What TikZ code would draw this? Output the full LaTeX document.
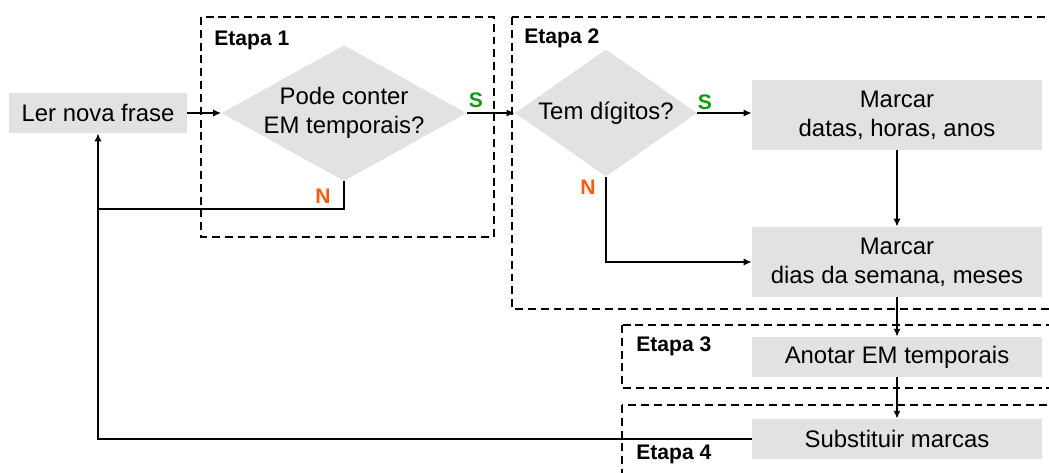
\documentclass[tikz,border=0pt]{standalone}
\usepackage{fontspec}
\setmainfont{Liberation Sans}
\usepackage{xcolor}
\usetikzlibrary{shapes.geometric,arrows.meta}

\definecolor{boxgray}{HTML}{E2E2E2}
\definecolor{simgreen}{HTML}{129A12}
\definecolor{naored}{HTML}{FF5A10}

\begin{document}
\begin{tikzpicture}[x=0.2mm,y=-0.2mm,
  font=\fontsize{13.6}{16.5}\selectfont,
  proc/.style={rectangle,fill=boxgray,minimum width=5.8cm,minimum height=0.8cm,align=center,inner sep=0pt},
  decision/.style={diamond,aspect=1.8,fill=boxgray,align=center,inner sep=-2pt},
  stage/.style={line width=1.1pt,dash pattern=on 4.5pt off 2.8pt},
  stagelbl/.style={anchor=west,inner sep=0pt,font=\fontsize{12}{14}\selectfont\bfseries},
  conn/.style={line width=0.85pt},
  arr/.style={conn,-{Latex[length=4.5pt,width=4pt]}},
  yes/.style={font=\fontsize{12}{14}\selectfont\bfseries,text=simgreen},
  no/.style={font=\fontsize{12}{14}\selectfont\bfseries,text=naored}]
\useasboundingbox (0,0) rectangle (1049,472);

% dashed frames of the four stages
\draw[stage] (201,17) rectangle (494,237);
\draw[stage] (512,17) rectangle (1070,309);
\draw[stage] (622,325) rectangle (1070,388);
\draw[stage] (622,405) rectangle (1070,490);
\node[stagelbl] (e1) at (214,40) {Etapa 1};
\node[stagelbl] (e2) at (524,38) {Etapa 2};
\node[stagelbl] (e3) at (636,346) {Etapa 3};
\node[stagelbl] (e4) at (636,454) {Etapa 4};

% boxes and questions
\node[proc,minimum width=3.56cm] (ler) at (98,113) {Ler nova frase};
\node[decision,minimum width=4.9cm,minimum height=2.72cm] (q1) at (344,113) {Pode conter\\EM temporais?};
\node[decision,minimum width=3.64cm,minimum height=2.54cm] (q2) at (606,113) {Tem dígitos?};
\node[proc,minimum height=1.4cm] (m1) at (897,115) {Marcar\\datas, horas, anos};
\node[proc,minimum height=1.4cm] (m2) at (897,262) {Marcar\\dias da semana, meses};
\node[proc] (an) at (897,357) {Anotar EM temporais};
\node[proc] (sb) at (897,439) {Substituir marcas};
\coordinate (back) at (98,209);

% connectors
\draw[arr] (ler) -- (q1);
\draw[arr] (q1) -- (q2);
\draw[arr] (q2.east) -- (q2.east -| m1.west);
\draw[arr] (q2.south) |- (m2.west);
\draw[arr] (m1) -- (m2);
\draw[arr] (m2) -- (an);
\draw[arr] (an) -- (sb);
\draw[arr] (sb.west) -| (ler.south);
\draw[conn] (q1.south) |- (back);

% yes / no marks
\node[yes] (s1) at (476,100) {S};
\node[no] (n1) at (323,196) {N};
\node[yes] (s2) at (705,102) {S};
\node[no] (n2) at (588,187) {N};
\end{tikzpicture}
\end{document}
